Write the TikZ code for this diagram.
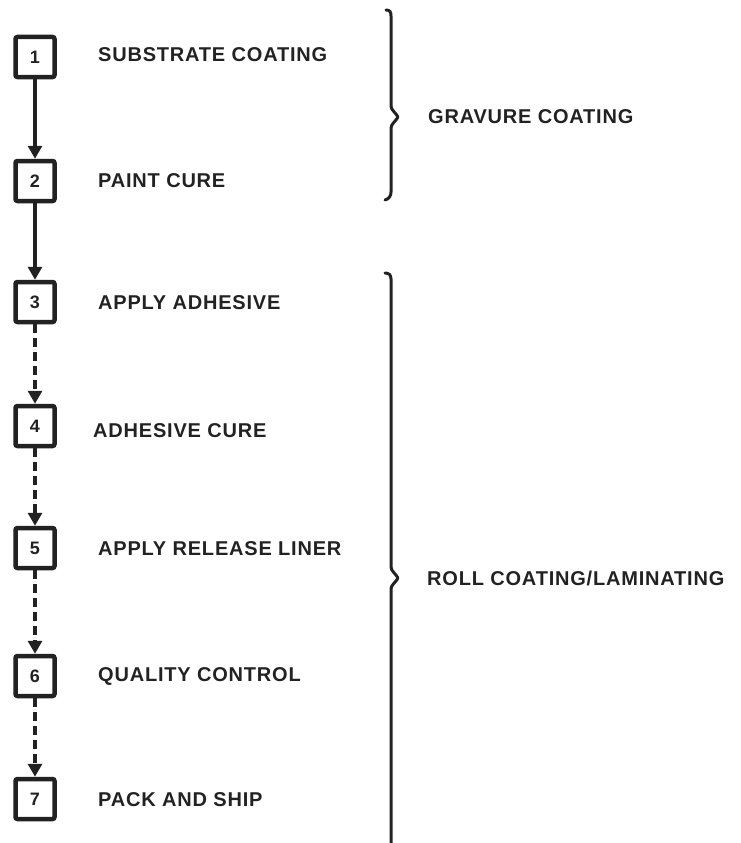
\documentclass[tikz,border=0pt]{standalone}
\usepackage{fontspec}
\setmainfont{Liberation Sans}
\newfontfamily\lblfont[LetterSpace=4]{Liberation Sans}
\usetikzlibrary{arrows.meta}
\definecolor{ink}{HTML}{222222}
\begin{document}
\begin{tikzpicture}[x=1pt,y=-1pt,
  stepbox/.style={draw=ink,line width=4.5pt,rounded corners=2pt,minimum width=39pt,minimum height=40pt,inner sep=0pt,font=\fontsize{18}{18}\selectfont\bfseries,text=ink},
  lbl/.style={anchor=west,inner sep=0pt,font=\lblfont\fontsize{20}{20}\selectfont\bfseries,text=ink},
  solidarrow/.style={draw=ink,line width=3.2pt,-{Triangle[length=13pt,width=14pt]}},
  dasharrow/.style={solidarrow,dash pattern=on 9pt off 5pt},
  bracepath/.style={draw=ink,line width=3pt,line cap=round,line join=round}]
\useasboundingbox (0,0) rectangle (740,843);
\node[stepbox] (s1) at (35,57) {1};
\node[stepbox] (s2) at (35,181) {2};
\node[stepbox] (s3) at (35,302) {3};
\node[stepbox] (s4) at (35,426) {4};
\node[stepbox] (s5) at (35,548) {5};
\node[stepbox] (s6) at (35,676) {6};
\node[stepbox] (s7) at (35,799) {7};
\node[lbl] (l1) at (98,55) {SUBSTRATE COATING};
\node[lbl] (l2) at (98,181) {PAINT CURE};
\node[lbl] (l3) at (98,303) {APPLY ADHESIVE};
\node[lbl] (l4) at (93,431) {ADHESIVE CURE};
\node[lbl] (l5) at (98,549) {APPLY RELEASE LINER};
\node[lbl] (l6) at (98,676) {QUALITY CONTROL};
\node[lbl] (l7) at (98,800) {PACK AND SHIP};
\node[lbl] (g) at (428,117) {GRAVURE COATING};
\node[lbl] (r) at (427,578) {ROLL COATING/LAMINATING};
\draw[solidarrow] (s1) -- (s2);
\draw[solidarrow] (s2) -- (s3);
\draw[dasharrow] (s3) -- (s4);
\draw[dasharrow] (s4) -- (s5);
\draw[dasharrow] (s5) -- (s6);
\draw[dasharrow] (s6) -- (s7);
\draw[bracepath] (386,10) .. controls (390,10) and (391,12) .. (391,16) -- (391,106) .. controls (391,110) and (396,113) .. (398,117) .. controls (396,121) and (391,124) .. (391,128) -- (391,192) .. controls (391,196) and (389,199) .. (385,200);
\draw[bracepath] (385,273) .. controls (389,273) and (391,275) .. (391,279) -- (391,567) .. controls (391,571) and (396,574) .. (398,578) .. controls (396,582) and (391,585) .. (391,589) -- (391,843);
\end{tikzpicture}
\end{document}
